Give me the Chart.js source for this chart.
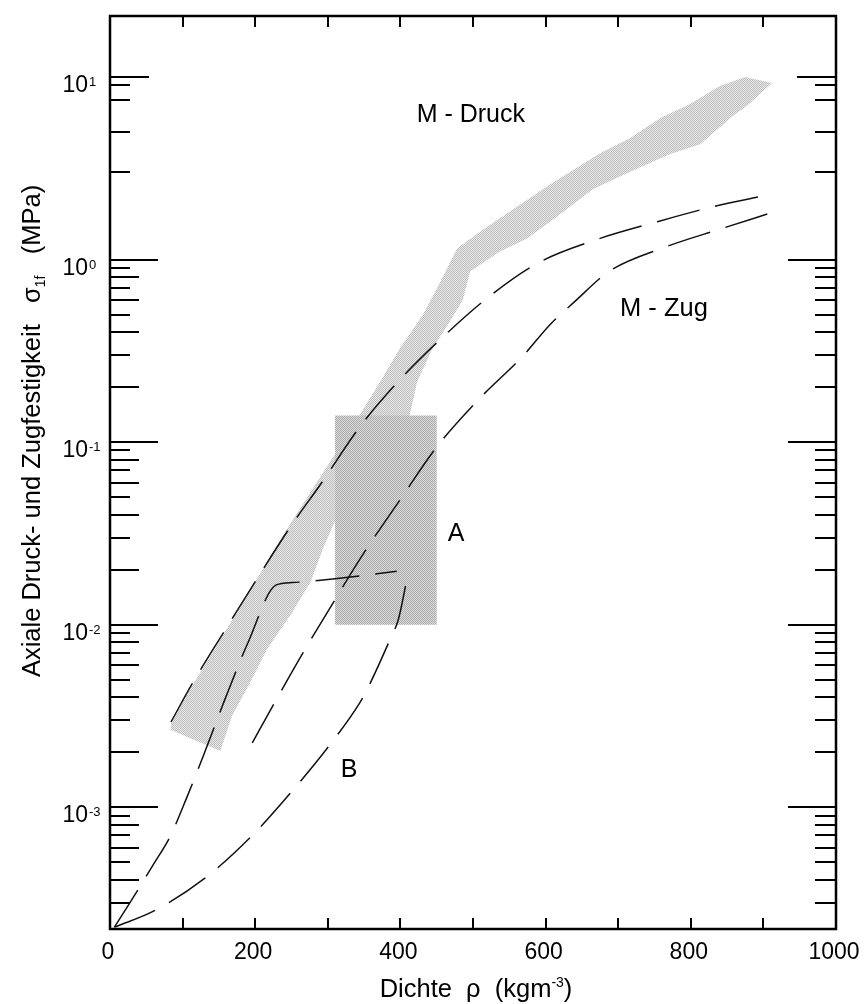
<!DOCTYPE html>
<html>
<head>
<meta charset="utf-8">
<script src="https://cdn.jsdelivr.net/npm/chart.js@4.4.1/dist/chart.umd.min.js"></script>
<style>
  html, body { margin: 0; padding: 0; background: #fff; }
</style>
</head>
<body>
<canvas id="foamChart" width="865" height="1004"></canvas>
<script>
// --- axis ticks ---
const densityTicks = [0, 100, 200, 300, 400, 500, 600, 700, 800, 900, 1000];
const densityLabels = [0, 200, 400, 600, 800, 1000];
const decadeTicks = [1e-3, 1e-2, 1e-1, 1, 10];
const decadeExponents = ['-3', '-2', '-1', '0', '1'];
const minorTicks = [
    3e-4, 4e-4, 5e-4, 6e-4, 7e-4, 8e-4, 9e-4,
    2e-3, 3e-3, 4e-3, 5e-3, 6e-3, 7e-3, 8e-3, 9e-3,
    0.02, 0.03, 0.04, 0.05, 0.06, 0.07, 0.08, 0.09,
    0.2, 0.3, 0.4, 0.5, 0.6, 0.7, 0.8, 0.9,
    3, 5, 7.5, 9
];

// --- dashed curves (density kg/m3, strength MPa) ---
const druckX = [84, 114, 158, 202, 248, 292, 344, 399, 459, 522, 591, 671, 751, 831, 904];
const druckY = [0.00293, 0.0048, 0.00927, 0.0177, 0.0341, 0.0603, 0.121, 0.219, 0.378, 0.626, 0.964, 1.29, 1.60, 1.95, 2.25];

const zugX = [196, 225, 266, 310, 344, 402, 450, 507, 569, 606, 640, 687, 762, 843, 908];
const zugY = [0.00225, 0.00363, 0.00702, 0.0137, 0.0228, 0.0499, 0.094, 0.170, 0.297, 0.44, 0.588, 0.859, 1.16, 1.48, 1.79];

const steepX = [6, 26, 59, 83, 106, 129, 158, 190, 229, 251, 313, 395];
const steepY = [2.2e-4, 2.93e-4, 4.8e-4, 6.93e-4, 1.135e-3, 1.93e-3, 3.87e-3, 7.96e-3, 0.0165, 0.0170, 0.0179, 0.0196];

const curveBX = [6, 62, 134, 196, 252, 306, 344, 354, 388, 397, 410];
const curveBY = [2.2e-4, 2.72e-4, 4.18e-4, 7.0e-4, 1.24e-3, 2.28e-3, 3.73e-3, 4.4e-3, 8.7e-3, 0.0106, 0.0186];

// --- shaded regions ---
const bandX = [84, 110, 152, 197, 238, 285, 344, 372, 399, 431, 455, 478, 514, 561, 606, 675, 716, 758, 799, 840, 875, 912,
    877, 858, 813, 771, 712, 665, 616, 574, 537, 496, 486, 468, 444, 423, 413, 358, 309, 293, 276, 248, 216, 193, 168, 152, 84];
const bandY = [0.0029, 0.0044, 0.00828, 0.0164, 0.0308, 0.0603, 0.1406, 0.214, 0.3245, 0.499, 0.757, 1.149, 1.462, 1.955, 2.58, 3.82, 4.62, 5.96, 7.11, 8.93, 10.0, 9.27,
    6.93, 6.11, 4.29, 3.78, 2.97, 2.43, 1.72, 1.30, 1.106, 0.859, 0.603, 0.456, 0.3245, 0.214, 0.1406, 0.0684, 0.0363, 0.0258, 0.0170, 0.0112, 0.0073, 0.0048, 0.00316, 0.00203, 0.00265];

const boxAX = [310, 450, 450, 310, 310];
const boxAY = [0.01, 0.01, 0.14, 0.14, 0.01];

const FONT = "'Liberation Sans', Arial, Helvetica, sans-serif";

function toPoints(xs, ys) {
    return xs.map((x, i) => ({ x: x, y: ys[i] }));
}

// small halftone-like pattern for the grey areas
function halftone(dark, light) {
    const c = document.createElement('canvas');
    c.width = 2; c.height = 2;
    const g = c.getContext('2d');
    g.fillStyle = light; g.fillRect(0, 0, 2, 2);
    g.fillStyle = dark; g.fillRect(0, 0, 1, 1); g.fillRect(1, 1, 1, 1);
    return g.createPattern(c, 'repeat');
}

function drawRich(ctx, parts, x, y, align) {
    let w = 0;
    parts.forEach(p => { ctx.font = p.size + 'px ' + FONT; w += ctx.measureText(p.text).width; });
    let cx = align === 'right' ? x - w : align === 'center' ? x - w / 2 : x;
    parts.forEach(p => {
        ctx.font = p.size + 'px ' + FONT;
        ctx.fillText(p.text, cx, y + (p.dy || 0));
        cx += ctx.measureText(p.text).width;
    });
}

// Frame, inward ticks, labels and texts
const framePlugin = {
    id: 'frame',
    afterDraw(chart) {
        const { ctx, chartArea: a, scales: { x, y } } = chart;
        ctx.save();
        ctx.strokeStyle = '#000';
        ctx.fillStyle = '#000';
        ctx.lineWidth = 2.5;
        ctx.strokeRect(a.left, a.top, a.right - a.left, a.bottom - a.top);

        ctx.lineWidth = 2;
        ctx.beginPath();
        densityTicks.forEach(v => {
            const px = Math.round(x.getPixelForValue(v));
            ctx.moveTo(px, a.bottom); ctx.lineTo(px, a.bottom - 11);
            ctx.moveTo(px, a.top); ctx.lineTo(px, a.top + 11);
        });
        decadeTicks.forEach(v => {
            const py = Math.round(y.getPixelForValue(v));
            const len = v >= 10 ? 39 : 48;
            ctx.moveTo(a.left, py); ctx.lineTo(a.left + len, py);
            ctx.moveTo(a.right, py); ctx.lineTo(a.right - len, py);
        });
        minorTicks.forEach(v => {
            const py = Math.round(y.getPixelForValue(v));
            const m = Math.round(v / Math.pow(10, Math.floor(Math.log10(v))) * 10) / 10;
            const len = (v < 1 && m % 2 === 0) ? 29 : 20;
            ctx.moveTo(a.left, py); ctx.lineTo(a.left + len, py);
            ctx.moveTo(a.right, py); ctx.lineTo(a.right - 21, py);
        });
        ctx.stroke();

        // tick labels
        ctx.textBaseline = 'alphabetic';
        ctx.textAlign = 'left';
        densityLabels.forEach(v => {
            drawRich(ctx, [{ text: String(v), size: 23 }], x.getPixelForValue(v) - 2, a.bottom + 30, 'center');
        });
        decadeTicks.forEach((v, i) => {
            const py = y.getPixelForValue(v);
            drawRich(ctx, [{ text: '10', size: 23 }], 88, py + 15, 'right');
            drawRich(ctx, [{ text: decadeExponents[i], size: 13 }], 89, py + 9, 'left');
        });

        // axis titles
        drawRich(ctx, [
            { text: 'Dichte  \u03c1  (kgm', size: 25.5 },
            { text: '-3', size: 14, dy: -10 },
            { text: ')', size: 25.5 }
        ], 476, 997, 'center');

        ctx.save();
        ctx.translate(40, 431);
        ctx.rotate(-Math.PI / 2);
        drawRich(ctx, [
            { text: 'Axiale Druck- und Zugfestigkeit   \u03c3', size: 25.5 },
            { text: '1f', size: 14, dy: 5 },
            { text: '   (MPa)', size: 25.5 }
        ], 0, 0, 'center');
        ctx.restore();

        // annotations
        drawRich(ctx, [{ text: 'M - Druck', size: 25 }], 525, 122, 'right');
        drawRich(ctx, [{ text: 'M - Zug', size: 25.5 }], 620, 316, 'left');
        drawRich(ctx, [{ text: 'A', size: 25 }], 456, 541, 'center');
        drawRich(ctx, [{ text: 'B', size: 25 }], 349, 777, 'center');
        ctx.restore();
    }
};

const dashed = {
    borderColor: '#111',
    borderWidth: 1.5,
    borderDash: [44, 16],
    pointRadius: 0,
    fill: false,
    cubicInterpolationMode: 'monotone',
    order: 0
};

new Chart(document.getElementById('foamChart'), {
    type: 'line',
    data: {
        datasets: [
            Object.assign({ label: 'Druck', data: toPoints(druckX, druckY) }, dashed),
            Object.assign({ label: 'Zug', data: toPoints(zugX, zugY) }, dashed),
            Object.assign({ label: 'steil', data: toPoints(steepX, steepY) }, dashed),
            Object.assign({ label: 'B', data: toPoints(curveBX, curveBY) }, dashed),
            {
                label: 'A',
                data: toPoints(boxAX, boxAY),
                borderWidth: 0,
                pointRadius: 0,
                tension: 0,
                backgroundColor: halftone('#a8a8a8', '#dedede'),
                fill: 'shape',
                order: 1
            },
            {
                label: 'M - Druck',
                data: toPoints(bandX, bandY),
                borderWidth: 0,
                pointRadius: 0,
                tension: 0,
                backgroundColor: halftone('#bcbcbc', '#eaeaea'),
                fill: 'shape',
                order: 2
            }
        ]
    },
    options: {
        responsive: false,
        animation: false,
        layout: { padding: { left: 110, right: 29, top: 16, bottom: 75 } },
        scales: {
            x: { type: 'linear', min: 0, max: 1000, display: false },
            y: { type: 'logarithmic', min: 2.15e-4, max: 21.6, display: false }
        },
        plugins: {
            legend: { display: false },
            tooltip: { enabled: false }
        }
    },
    plugins: [framePlugin]
});
</script>
</body>
</html>
